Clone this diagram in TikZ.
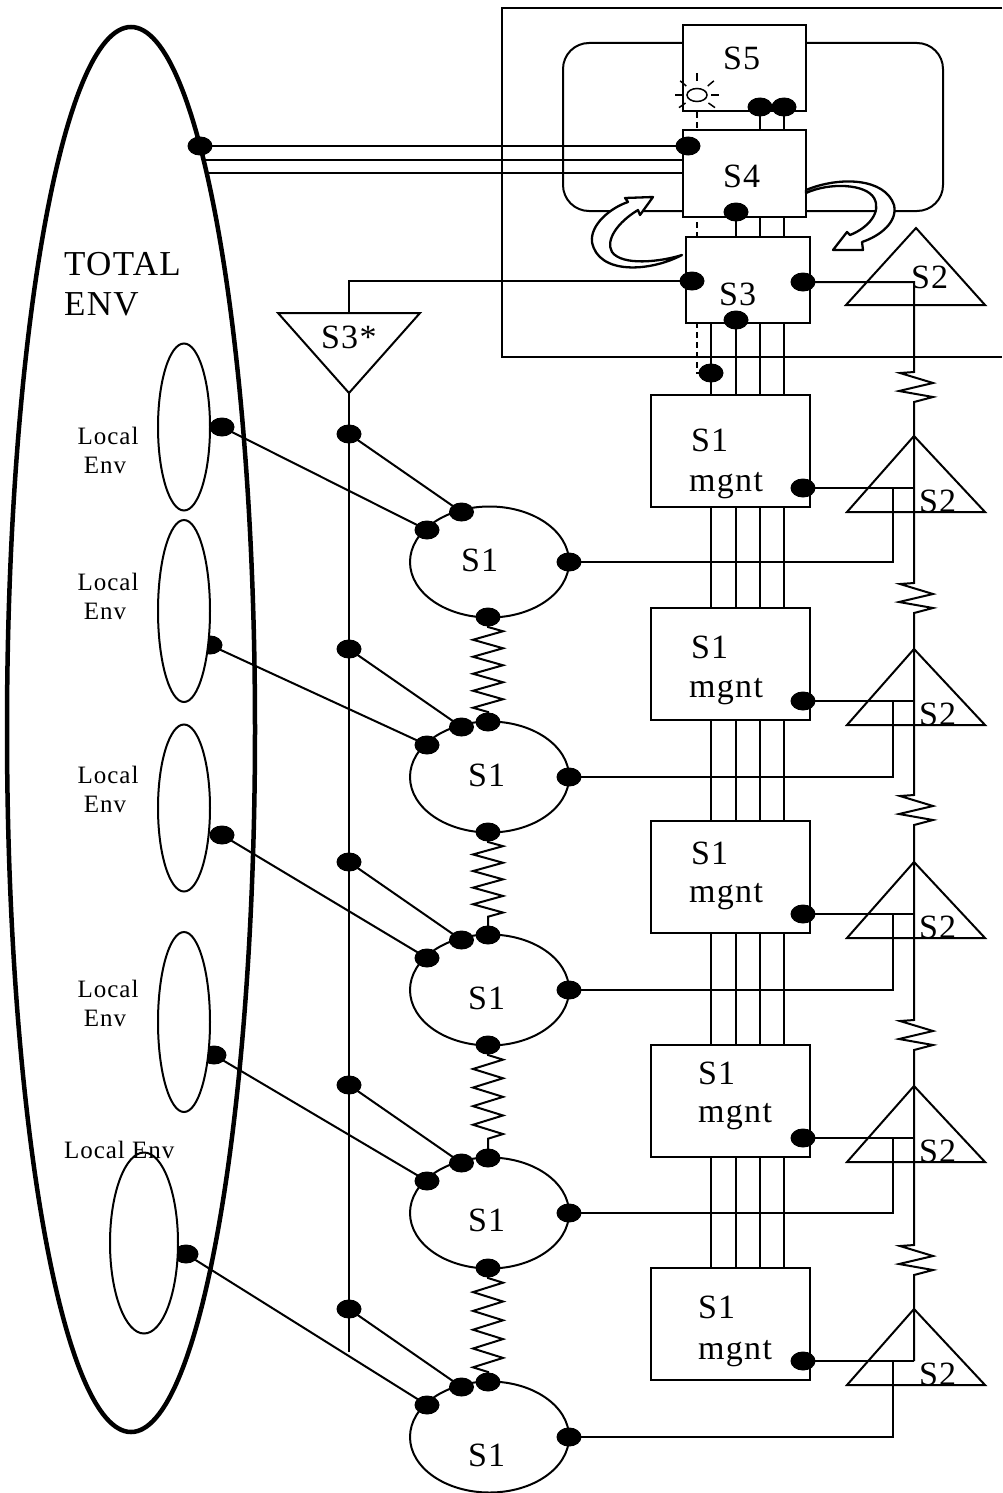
\documentclass[tikz,border=0pt]{standalone}
\usepackage{tikz}
\usepackage{fontspec}
\setmainfont{Liberation Serif}
\newfontfamily\spacedserif[LetterSpace=4]{Liberation Serif}
\usetikzlibrary{shapes.geometric,decorations.pathmorphing,calc}
\pgfdeclarelayer{bg}
\pgfsetlayers{bg,main}
\begin{document}
\begin{tikzpicture}[x=1pt,y=-1pt,line width=2pt,
  dotn/.style={ellipse,fill=black,draw=none,minimum width=25pt,minimum height=19pt,inner sep=0pt},
  boxn/.style={rectangle,draw,fill=white,inner sep=0pt},
  mgntbox/.style={boxn,minimum width=159pt,minimum height=112pt},
  s1n/.style={ellipse,draw,fill=white,minimum width=159pt,minimum height=111pt,inner sep=0pt},
  envn/.style={ellipse,draw,fill=white,inner sep=0pt},
  lbl/.style={font=\spacedserif\fontsize{34}{40}\selectfont,inner sep=0pt,anchor=base west},
  lbig/.style={font=\spacedserif\fontsize{35}{40}\selectfont,inner sep=0pt,anchor=base west},
  lsmall/.style={font=\spacedserif\fontsize{25}{30}\selectfont,inner sep=0pt,anchor=base},
  spring/.style={decorate,decoration={zigzag,segment length=#1,amplitude=15pt,pre length=10pt,post length=10pt}},
  dsh/.style={dash pattern=on 6pt off 4pt},
  hollow/.style={draw,fill=white,line join=round,line width=2.3pt}]

\useasboundingbox (0,0) rectangle (1002,1493);

% boxes
\node[boxn,minimum width=123pt,minimum height=86pt] (S5) at (744.5,68) {};
\node[boxn,minimum width=123pt,minimum height=87pt] (S4) at (744.5,173.5) {};
\node[boxn,minimum width=124pt,minimum height=86pt] (S3) at (748,280) {};
\foreach \j/\t in {1/395,2/608,3/821,4/1045,5/1268}
  \node[mgntbox] (m\j) at (730.5,\t+56) {};

% S1 ellipses
\foreach \i/\c in {1/562,2/777,3/990,4/1213,5/1437}
  \node[s1n] (s\i) at (489.5,\c) {};

% curved arrows
\draw[hollow] (682,255) .. controls (650,272) and (598,275) .. (592,242)
  .. controls (590,225) and (610,208) .. (628,202) -- (625,198) -- (653,197) -- (640,215) -- (638,210)
  .. controls (618,222) and (605,240) .. (612,252) .. controls (622,266) and (660,262) .. (682,255) -- cycle;
\draw[hollow] (806,190) .. controls (840,176) and (885,178) .. (894,205)
  .. controls (898,222) and (880,236) .. (862,242) -- (863,250) -- (833,250) -- (847,232) -- (850,235)
  .. controls (868,228) and (882,212) .. (874,198) .. controls (866,184) and (830,182) .. (806,193) -- cycle;

% triangles
\draw (846,305) -- (916,228) -- (985,305) -- cycle;
\foreach \t in {395,608,821,1045,1268}
  \draw (847,\t+117) -- (914,\t+41) -- (985,\t+117) -- cycle;
\draw (278,313) -- (420,313) -- (349,393) -- cycle;

% dots
\node[dotn] (te) at (200,146) {};
\node[dotn] (s4l) at (688,146) {};
\node[dotn] (s5a) at (760,107) {};
\node[dotn] (s5b) at (784,107) {};
\node[dotn] (s4b) at (736,212) {};
\node[dotn] (s3l) at (692,281) {};
\node[dotn] (s3r) at (803,282) {};
\node[dotn] (s3b) at (736,320) {};
\node[dotn] (md0) at (711,373) {};
\foreach \j/\t in {1/395,2/608,3/821,4/1045,5/1268}
  \node[dotn] (md\j) at (803,\t+93) {};
\foreach \i/\c in {1/562,2/777,3/990,4/1213,5/1437} {
  \node[dotn] (v\i) at (349,\c-128) {};
  \node[dotn] (tl\i) at (461.5,\c-50) {};
  \node[dotn] (sl\i) at (427,\c-32) {};
  \node[dotn] (sr\i) at (569,\c) {};
}
\foreach \i/\c in {2/777,3/990,4/1213,5/1437}
  \node[dotn] (st\i) at (488,\c-55) {};
\foreach \i/\c in {1/562,2/777,3/990,4/1213}
  \node[dotn] (sb\i) at (488,\c+55) {};
\foreach \i/\x/\y in {1/222/427,2/210/645,3/222/835,4/214/1055,5/186/1254}
  \node[dotn] (ld\i) at (\x,\y) {};

% sun
\node[ellipse,draw,fill=white,minimum width=20pt,minimum height=13pt,inner sep=0pt,line width=1.5pt] (sun) at (697,95) {};
\foreach \a in {0,-40,-90,-140,180,-215,-325}
  \draw[line width=1.5pt] ($(sun.center)+(\a:14)$) -- ($(sun.center)+(\a:22)$);

% local environments
\node[envn,minimum width=52pt,minimum height=167pt] (le1) at (184,427) {};
\node[envn,minimum width=52pt,minimum height=182pt] (le2) at (184,611) {};
\node[envn,minimum width=52pt,minimum height=167pt] (le3) at (184,808) {};
\node[envn,minimum width=52pt,minimum height=180pt] (le4) at (184,1022) {};
\node[envn,minimum width=68pt,minimum height=181pt] (le5) at (144,1243) {};

% texts
\node[lbl] (tS5) at (722,70) {S5};
\node[lbl] (tS4) at (722,187) {S4};
\node[lbl] (tS3) at (718,305) {S3};
\node[lbl] (tS2) at (910,288) {S2};
\foreach \j/\t in {1/395,2/608,3/821,4/1045,5/1268}
  \node[lbl] (tS2\j) at (918,\t+117) {S2};
\node[lbl] (tS3s) at (320,348) {S3*};
\node[lbig] (tTot) at (63,275) {TOTAL};
\node[lbig] (tEnv) at (63,315) {ENV};
\foreach \j/\x/\y/\a/\b in {1/690/688/451/491,2/690/688/658/697,3/690/688/864/902,4/697/697/1084/1122,5/697/697/1318/1359} {
  \node[lbl] (ms\j) at (\x,\a) {S1};
  \node[lbl] (mg\j) at (\y,\b) {mgnt};
}
\foreach \i/\x/\b in {1/460/571,2/467/786,3/467/1009,4/467/1231,5/467/1466}
  \node[lbl] (ts\i) at (\x,\b) {S1};
\foreach \i/\a/\b in {1/444/473,2/590/619,3/783/812,4/997/1026} {
  \node[lsmall] (lla\i) at (108,\a) {Local};
  \node[lsmall] (llb\i) at (105,\b) {Env};
}
\node[lsmall,anchor=base west] (lla5) at (63,1158) {Local Env};

% background layer: environment, frames and connectors
\begin{pgfonlayer}{bg}
\begin{scope}[line width=2pt]
\node[ellipse,draw,line width=4.5pt,minimum width=248pt,minimum height=1405pt,inner sep=0pt] (tenv) at (131,729.5) {};
\draw (1002,8) -- (502,8) -- (502,357) -- (1002,357);
\draw[rounded corners=26pt] (563,43) rectangle (943,211);
\draw (te.center) -- (s4l.center);
\coordinate (e2) at (203,160);
\coordinate (e3) at (207,173);
\draw (e2) -- (e2 -| S4.west);
\draw (e3) -- (e3 -| S4.west);
\draw (s5a.center) -- (s5a.center |- m5.north);
\draw (s5b.center) -- (s5b.center |- m5.north);
\draw (s4b.center) -- (s4b.center |- m5.north);
\draw (md0.center |- S3.south) -- (md0.center |- m5.north);
\draw[dsh] (sun.south) -- (sun.south |- md0.center) -- (md0.center);
\coordinate (s3stop) at (349,313);
\coordinate (s3sapex) at (349,393);
\coordinate (vbot) at (349,1352);
\draw (s3l.center) -- (s3l.center -| s3stop) -- (s3stop);
\draw (s3sapex) -- (vbot);
\coordinate (v2top) at (914,282);
\coordinate (v2bot) at (914,1361);
\draw (s3r.center) -- (v2top)
  \foreach \c in {387,598,810,1035,1260} { -- (914,\c-15) -- (900,\c-14) -- (933,\c-4) -- (899,\c+4) -- (933,\c+10) -- (914,\c+15)}
  -- (v2bot);
\coordinate (jx) at (893,0);
\foreach \i in {1,...,5} {
  \draw (md\i.center) -- (md\i.center -| v2top);
  \draw (sr\i.center) -- (sr\i.center -| jx) -- (jx |- md\i.center);
  \draw (v\i.center) -- (tl\i.center);
  \draw (ld\i.center) -- (sl\i.center) -- (tl\i.center);
}
\foreach \i/\k/\s in {1/2/17pt,2/3/16.6pt,3/4/18.6pt,4/5/18.8pt}
  \draw[spring=\s] (sb\i.center) -- (st\k.center);
\end{scope}
\end{pgfonlayer}
\end{tikzpicture}
\end{document}
